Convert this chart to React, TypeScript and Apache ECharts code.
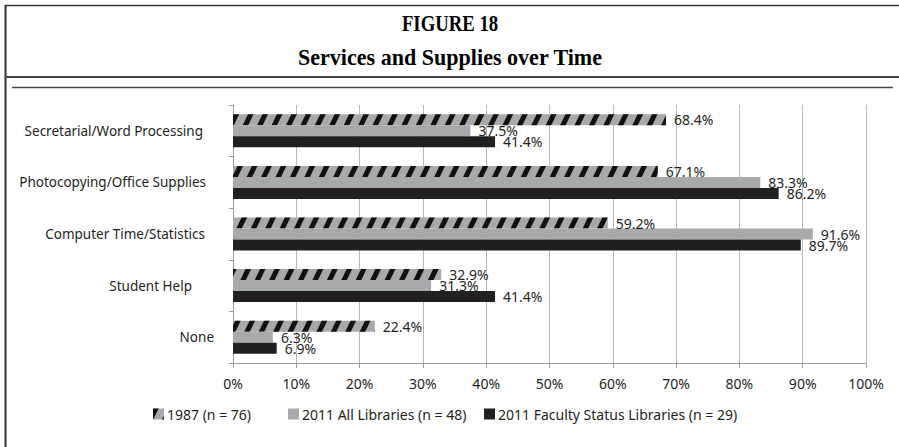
import React, { useEffect, useRef } from "react";
import * as echarts from "echarts";

const categories = [
  "Secretarial/Word Processing",
  "Photocopying/Office Supplies",
  "Computer Time/Statistics",
  "Student Help",
  "None",
];
const seriesNames = [
  "1987 (n = 76)",
  "2011 All Libraries (n = 48)",
  "2011 Faculty Status Libraries (n = 29)",
];
const values1987 = [68.4, 67.1, 59.2, 32.9, 22.4];
const values2011All = [37.5, 83.3, 91.6, 31.3, 6.3];
const values2011Faculty = [41.4, 86.2, 89.7, 41.4, 6.9];
const xTicks = [0, 10, 20, 30, 40, 50, 60, 70, 80, 90, 100];
const titleLines = ["FIGURE 18", "Services and Supplies over Time"];

const FONT = '"Noto Sans", sans-serif';
const GRAY = "#a7a9ac";
const BLACK = "#231f20";
const legendLefts = [153, 288, 484];
const labelRightPad = [11, 8, 9, 22, 0];

export default function App() {
  const ref = useRef<HTMLDivElement>(null);
  useEffect(() => {
    if (!ref.current) return;
    const chart = echarts.init(ref.current, undefined, { renderer: "svg" });
    const label = {
      show: true,
      position: "right" as const,
      distance: 8,
      formatter: (p: any) => p.value.toFixed(1) + "%",
      fontFamily: FONT,
      fontSize: 14,
      color: BLACK,
    };
    const rich: any = {};
    labelRightPad.forEach((p, i) => {
      rich["c" + i] = {
        fontSize: 13.5,
        color: BLACK,
        fontFamily: FONT,
        padding: [0, p, 0, 0],
      };
    });
    chart.setOption({
      animation: false,
      backgroundColor: "#ffffff",
      textStyle: { fontFamily: FONT },
      grid: { left: 233, right: 33, top: 105, bottom: 84, containLabel: false },
      xAxis: {
        type: "value",
        min: xTicks[0],
        max: xTicks[xTicks.length - 1],
        interval: 10,
        axisLine: { show: true, lineStyle: { color: "#9d9d9d", width: 1 } },
        axisTick: { show: true, length: 5, lineStyle: { color: "#9d9d9d" } },
        axisLabel: {
          formatter: "{value}%",
          fontSize: 14,
          color: BLACK,
          margin: 13,
          fontFamily: FONT,
        },
        splitLine: { show: true, lineStyle: { color: "#b8b8b8", width: 1 } },
      },
      yAxis: {
        type: "category",
        data: categories,
        inverse: true,
        axisLine: { show: true, lineStyle: { color: "#9d9d9d", width: 1 } },
        axisTick: { show: true, length: 4, lineStyle: { color: "#9d9d9d" } },
        axisLabel: {
          fontSize: 13.5,
          color: BLACK,
          margin: 19,
          fontFamily: FONT,
          formatter: (v: string, i: number) => "{c" + i + "|" + v + "}",
          rich,
        },
      },
      legend: seriesNames.map((n, i) => ({
        left: legendLefts[i],
        top: 407,
        padding: 0,
        itemWidth: 11,
        itemHeight: 11,
        itemGap: 0,
        icon: "rect",
        textStyle: { fontSize: 14, color: BLACK, fontFamily: FONT, padding: [0, 0, 0, -2] },
        data: [n],
      })),
      series: [
        {
          name: seriesNames[0],
          type: "bar",
          data: values1987,
          barWidth: 11,
          barGap: "0%",
          itemStyle: {
            color: GRAY,
            decal: {
              symbol: "rect",
              symbolSize: 1,
              color: "#111111",
              dashArrayX: [5, 8],
              dashArrayY: [1, 0],
              rotation: Math.PI / 7,
            },
          },
          label,
        },
        {
          name: seriesNames[1],
          type: "bar",
          data: values2011All,
          barWidth: 11,
          barGap: "0%",
          itemStyle: { color: GRAY },
          label,
        },
        {
          name: seriesNames[2],
          type: "bar",
          data: values2011Faculty,
          barWidth: 11,
          barGap: "0%",
          itemStyle: { color: BLACK },
          label,
        },
      ],
      graphic: [
        {
          type: "line",
          shape: { x1: 5.5, y1: 5, x2: 5.5, y2: 447 },
          style: { stroke: "#333", lineWidth: 2 },
        },
        {
          type: "line",
          shape: { x1: 5, y1: 5.5, x2: 899, y2: 5.5 },
          style: { stroke: "#333", lineWidth: 1.5 },
        },
        {
          type: "line",
          shape: { x1: 5, y1: 77, x2: 899, y2: 77 },
          style: { stroke: "#444", lineWidth: 2 },
        },
        {
          type: "line",
          shape: { x1: 12, y1: 87.5, x2: 893, y2: 87.5 },
          style: { stroke: "#444", lineWidth: 1.5 },
        },
        {
          type: "text",
          x: 450,
          y: 23,
          scaleX: 0.78,
          style: {
            text: titleLines[0],
            font: 'bold 24px "Liberation Serif", serif',
            fill: "#000",
            textAlign: "center",
            textVerticalAlign: "middle",
          },
        },
        {
          type: "text",
          x: 450,
          y: 57,
          scaleX: 0.92,
          style: {
            text: titleLines[1],
            font: 'bold 24px "Liberation Serif", serif',
            fill: "#000",
            textAlign: "center",
            textVerticalAlign: "middle",
          },
        },
      ],
    });
    return () => chart.dispose();
  }, []);
  return <div ref={ref} style={{ width: 899, height: 447, position: "absolute", left: 0, top: 0 }} />;
}
